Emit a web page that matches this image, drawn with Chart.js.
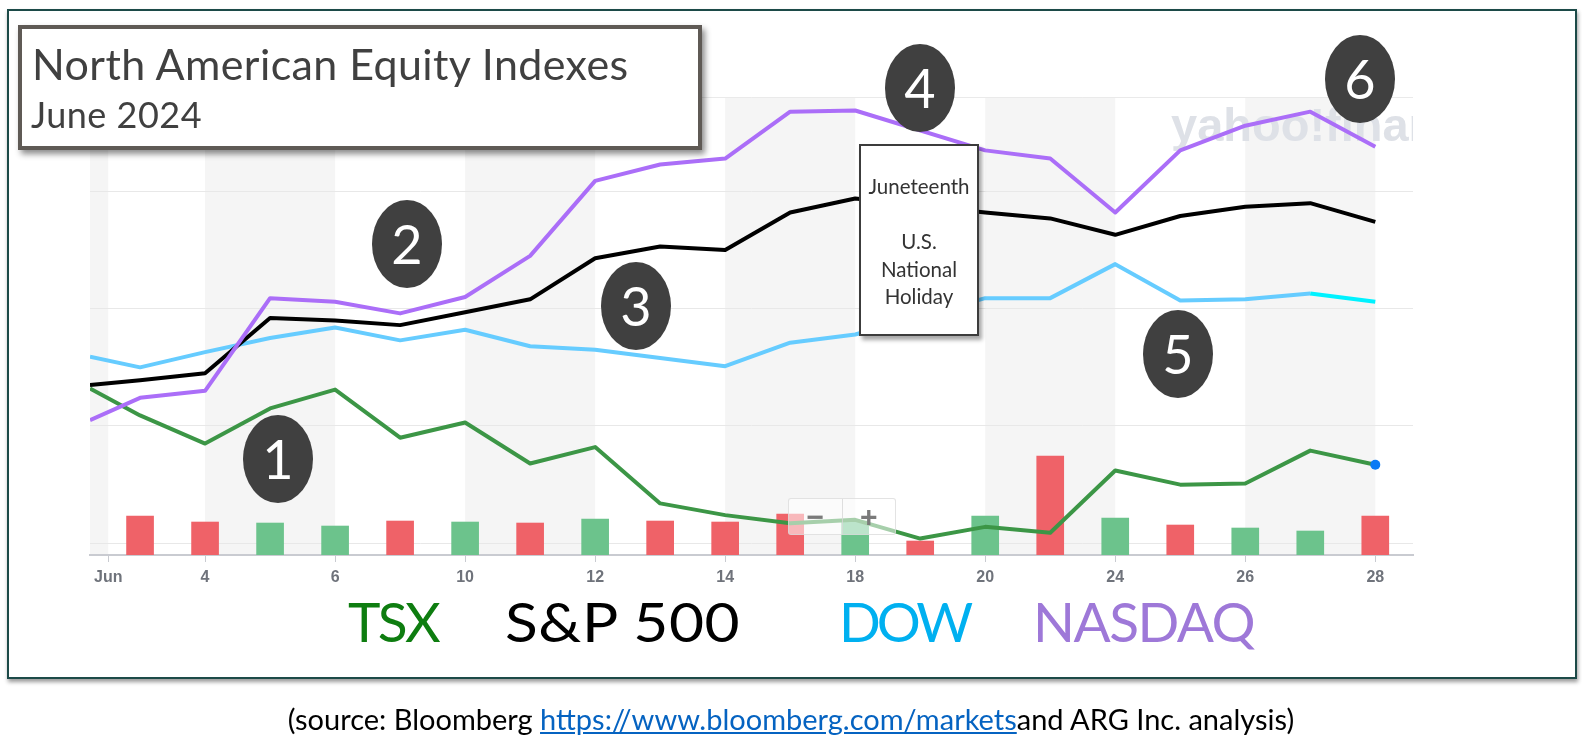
<!DOCTYPE html>
<html>
<head>
<meta charset="utf-8">
<script src="https://cdn.jsdelivr.net/npm/chart.js@4.4.1/dist/chart.umd.min.js"></script>
<style>
  html, body { margin: 0; padding: 0; background: #ffffff; }
  body { width: 1582px; height: 741px; position: relative; overflow: hidden; font-family: Lato, "Open Sans", sans-serif; }
  #chart { position: absolute; left: 0; top: 0; }
  .frame { position: absolute; left: 7px; top: 9px; width: 1566px; height: 666px; border: 2px solid #1c4a48; box-shadow: 1px 3px 4px rgba(0,0,0,0.4); pointer-events: none; }
  .titlebox { position: absolute; left: 18px; top: 25px; width: 676px; height: 117px; border: 4px solid #5f5a55; background: #fff; box-shadow: 3px 4px 6px rgba(0,0,0,0.45); }
  .t1 { position: absolute; left: 32px; top: 42px; font-size: 43px; letter-spacing: 0.4px; line-height: 1; color: #404040; white-space: nowrap; }
  .t2 { position: absolute; left: 31px; top: 96px; font-size: 36px; letter-spacing: 0.5px; line-height: 1; color: #404040; white-space: nowrap; }
  .num { position: absolute; width: 70px; height: 88px; border-radius: 50%; background: #404040; color: #fff; font-size: 54px; line-height: 88px; text-align: center; }
  .holiday { position: absolute; left: 859px; top: 144px; width: 116px; border: 2px solid #3c3c3c; background: #fff; box-shadow: 3px 4px 4px rgba(0,0,0,0.35); text-align: center; font-size: 20.5px; line-height: 27.5px; color: #333; padding-top: 27px; box-sizing: content-box; height: 161px; }
  .zoomctl { position: absolute; left: 788px; top: 498px; width: 106px; height: 35px; background: rgba(255,255,255,0.55); border: 1px solid rgba(215,215,215,0.7); border-radius: 3px; display: flex; }
  .zoomctl div { flex: 1; text-align: center; font: bold 30px/35px "Liberation Sans", sans-serif; color: #7a7a7a; }
  .zoomctl div + div { border-left: 1px solid rgba(215,215,215,0.8); }
  .leg { position: absolute; top: 594px; font-size: 55px; line-height: 1; white-space: nowrap; transform-origin: 0 0; }
  .src { position: absolute; left: 0; width: 1582px; top: 704px; text-align: center; font-size: 29px; line-height: 1; color: #000; white-space: nowrap; }
  .src a { color: #0563c1; text-decoration: underline; }
</style>
</head>
<body>
<canvas id="chart" width="1582" height="741"></canvas>

<div class="frame"></div>
<div class="titlebox"></div>
<div class="t1">North American Equity Indexes</div>
<div class="t2">June 2024</div>

<div class="num" style="left:243px;top:415px">1</div>
<div class="num" style="left:372px;top:200px">2</div>
<div class="num" style="left:601px;top:262px">3</div>
<div class="num" style="left:885px;top:44px">4</div>
<div class="num" style="left:1143px;top:310px">5</div>
<div class="num" style="left:1325px;top:35px">6</div>

<div class="holiday">Juneteenth<br><br>U.S.<br>National<br>Holiday</div>
<div class="zoomctl"><div>−</div><div>+</div></div>

<div class="leg" style="left:348px;color:#0e7d10;letter-spacing:-2.5px">TSX</div>
<div class="leg" style="left:505px;color:#000000;letter-spacing:0.5px;transform:scaleX(1.1)">S&amp;P 500</div>
<div class="leg" style="left:839px;color:#00b0f0;letter-spacing:-4px">DOW</div>
<div class="leg" style="left:1033px;color:#9e78d8;letter-spacing:-1.5px">NASDAQ</div>

<div class="src">(source: Bloomberg <a>https://www.bloomberg.com/markets</a>and ARG Inc. analysis)</div>

<script>
// ---- Data ----
// First entry of each series = value at the left edge of the plot (prior session, partly visible).
const pointLabels = ['left edge','Jun 3','Jun 4','Jun 5','Jun 6','Jun 7','Jun 10','Jun 11','Jun 12','Jun 13','Jun 14',
                     'Jun 17','Jun 18','Jun 19','Jun 20','Jun 21','Jun 24','Jun 25','Jun 26','Jun 27','Jun 28'];
// relative change, % (one grid step = 1)
const tsx    = [0.32, 0.09, -0.15, 0.15, 0.31, -0.10, 0.03, -0.32, -0.18, -0.66, -0.76, -0.83, -0.80, -0.96, -0.86, -0.91, -0.38, -0.50, -0.49, -0.21, -0.33];
const sp500  = [0.35, 0.39, 0.45, 0.92, 0.90, 0.86, 0.97, 1.08, 1.43, 1.53, 1.50, 1.82, 1.94, null, 1.82, 1.77, 1.63, 1.79, 1.87, 1.90, 1.74];
const dow    = [0.59, 0.50, 0.63, 0.75, 0.84, 0.73, 0.82, 0.68, 0.65, 0.58, 0.51, 0.71, 0.78, null, 1.09, 1.09, 1.38, 1.07, 1.08, 1.13, 1.06];
const nasdaq = [0.05, 0.24, 0.30, 1.09, 1.06, 0.96, 1.10, 1.45, 2.09, 2.23, 2.28, 2.68, 2.69, null, 2.35, 2.28, 1.82, 2.35, 2.56, 2.68, 2.38];
// TSX volume per trading day (millions of shares, estimated)
const volume = [234, 198, 192, 174, 204, 198, 192, 216, 204, 198, 246, 204, 84, 234, 594, 222, 180, 162, 144, 234];
// x-axis tick labels
const tickLabels = ['Jun', '4', '6', '10', '12', '14', '18', '20', '24', '26', '28'];
const gridValues = [-1, 0, 1, 2];

// ---- Axis ranges ----
const X_MIN = -0.77, X_MAX = 19.58, MONTH_START_X = -0.49;
const Y_MIN = -1.10, Y_MAX = 2.805;
const VOL_MAX = 2750;

const dayLabels = pointLabels.slice(1);
const xOf = k => (k === 0 ? X_MIN : k - 1);
const toXY = arr => arr.map((v, k) => ({ x: xOf(k), y: v }));
const tickPositions = tickLabels.map(l => l === 'Jun' ? MONTH_START_X : dayLabels.indexOf('Jun ' + l));

const volData = volume.map((v, i) => ({ x: i, y: v }));
const volColors = volume.map((v, i) => tsx[i + 1] >= tsx[i] ? '#6cc38c' : '#ef6268');

const bandsPlugin = {
  id: 'bands',
  beforeDraw(chart) {
    const { ctx, chartArea: a, scales } = chart;
    const xs = scales.x;
    ctx.save();
    ctx.fillStyle = '#ffffff';
    ctx.fillRect(a.left, a.top, a.right - a.left, a.bottom - a.top);
    const bounds = [X_MIN, ...tickPositions, X_MAX];
    ctx.fillStyle = '#f5f5f5';
    for (let j = 0; j < bounds.length - 1; j += 2) {
      const x0 = xs.getPixelForValue(bounds[j]);
      const x1 = xs.getPixelForValue(bounds[j + 1]);
      ctx.fillRect(x0, a.top, x1 - x0, a.bottom - a.top);
    }
    ctx.strokeStyle = '#eaeaea';
    ctx.lineWidth = 1;
    ctx.beginPath();
    ctx.moveTo(a.left, a.top + 0.5);
    ctx.lineTo(a.right, a.top + 0.5);
    ctx.stroke();
    ctx.restore();
  },
  beforeDatasetsDraw(chart) {
    const { ctx, chartArea: a } = chart;
    ctx.save();
    ctx.beginPath();
    ctx.rect(a.left, a.top, a.right - a.left, a.bottom - a.top);
    ctx.clip();
    ctx.fillStyle = '#dee1e7';
    ctx.font = 'bold 47px "Liberation Sans", sans-serif';
    ctx.textBaseline = 'alphabetic';
    ctx.fillText('yahoo!finance', a.right - 242, a.top + 44);
    ctx.restore();
  }
};

const lineDs = (label, arr, color, order) => ({
  type: 'line', label, data: toXY(arr), borderColor: color, backgroundColor: color,
  borderWidth: 4, pointRadius: 0, tension: 0, spanGaps: true, order,
  borderJoinStyle: 'round', yAxisID: 'y'
});

const lastIdx = tsx.length - 1;
const tsxDs = lineDs('TSX', tsx, '#3c9646', 3);
tsxDs.pointRadius = c => (c.dataIndex === lastIdx ? 5 : 0);
tsxDs.pointBackgroundColor = '#0b7bf5';
tsxDs.pointBorderWidth = 0;

const dowDs = lineDs('DOW', dow, '#66ccff', 2);
dowDs.segment = { borderColor: c => (c.p1DataIndex === lastIdx ? '#00f2ff' : undefined) };

new Chart(document.getElementById('chart'), {
  data: {
    datasets: [
      { type: 'bar', label: 'Volume', data: volData, backgroundColor: volColors, barThickness: 27, yAxisID: 'yv', order: 10 },
      tsxDs,
      dowDs,
      lineDs('S&P 500', sp500, '#000000', 1),
      lineDs('NASDAQ', nasdaq, '#ab6ef8', 0)
    ]
  },
  options: {
    responsive: false,
    animation: false,
    events: [],
    layout: { padding: { left: 90, right: 169, top: 97, bottom: 154 } },
    plugins: { legend: { display: false }, tooltip: { enabled: false } },
    scales: {
      x: {
        type: 'linear', min: X_MIN, max: X_MAX, offset: false,
        afterBuildTicks: s => { s.ticks = tickPositions.map(v => ({ value: v })); },
        afterFit: s => { s.height = 32; },
        ticks: {
          autoSkip: false, maxRotation: 0, padding: 6,
          callback: (v, i) => tickLabels[i],
          color: '#6f737b',
          font: { family: '"Liberation Sans", sans-serif', size: 16, weight: 'bold' }
        },
        grid: { offset: false, drawOnChartArea: false, drawTicks: true, tickLength: 7, color: '#c9cbd1' },
        border: { color: '#c9cbd1', width: 2 }
      },
      y: {
        type: 'linear', position: 'left', min: Y_MIN, max: Y_MAX,
        afterBuildTicks: s => { s.ticks = gridValues.map(v => ({ value: v })); },
        afterFit: s => { s.width = 0; },
        ticks: { display: false },
        grid: { color: '#e8e8e8', drawTicks: false },
        border: { display: false }
      },
      yv: { type: 'linear', position: 'left', min: 0, max: VOL_MAX, display: false }
    }
  },
  plugins: [bandsPlugin]
});
</script>
</body>
</html>
